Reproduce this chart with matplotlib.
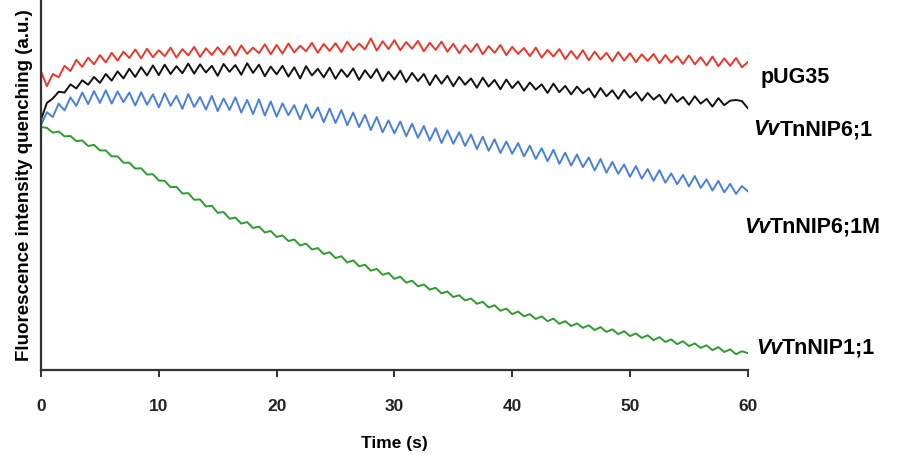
import numpy as np
import matplotlib
matplotlib.use("Agg")
import matplotlib.pyplot as plt

# fluorescence quenching traces (a.u.), one reading every 0.5 s from 0 to 60 s
pug35 = [80.5, 76.5, 79.8, 78.9, 82.0, 80.6, 83.6, 81.7, 84.2, 82.4,
         84.9, 82.9, 85.5, 83.4, 85.8, 84.1, 86.4, 84.0, 86.6, 84.3,
         86.2, 84.6, 86.9, 84.2, 86.5, 84.8, 87.1, 84.4, 86.7, 84.9,
         87.0, 85.0, 87.3, 84.7, 87.5, 85.2, 86.9, 85.4, 87.8, 85.1,
         87.6, 85.3, 88.0, 85.6, 87.4, 85.9, 88.2, 85.5, 87.9, 86.0,
         88.1, 85.7, 88.5, 86.2, 88.0, 86.4, 89.4, 86.1, 88.6, 86.5,
         88.9, 86.2, 88.4, 86.6, 88.7, 85.9, 88.2, 86.3, 88.5, 85.8,
         87.9, 85.4, 87.6, 85.7, 87.9, 85.1, 87.3, 85.5, 87.6, 84.9,
         87.1, 85.2, 86.8, 84.6, 86.9, 84.2, 86.3, 84.5, 86.5, 83.8,
         86.0, 83.9, 86.2, 83.5, 85.8, 83.7, 85.5, 83.2, 85.7, 83.4,
         85.4, 83.0, 85.1, 83.3, 85.2, 82.7, 84.9, 82.9, 84.6, 82.5,
         84.8, 82.4, 84.3, 82.1, 84.5, 81.9, 84.0, 82.0, 84.1, 81.6,
         83.0]

nip61 = [67.5, 72.0, 73.2, 75.0, 74.8, 77.0, 75.9, 78.1, 76.9, 79.0,
         77.4, 79.8, 78.0, 80.5, 78.6, 81.2, 79.0, 81.6, 79.4, 82.1,
         79.5, 82.3, 79.8, 81.9, 80.0, 82.6, 79.9, 82.4, 80.2, 82.0,
         79.3, 82.5, 80.4, 82.2, 79.6, 82.7, 80.1, 82.3, 79.2, 81.8,
         79.7, 82.0, 79.1, 81.6, 78.6, 81.9, 79.4, 81.2, 78.9, 81.5,
         78.5, 81.0, 79.0, 81.3, 78.2, 80.8, 78.7, 81.1, 77.9, 80.4,
         78.3, 80.7, 77.6, 80.1, 77.9, 79.8, 76.8, 79.5, 77.2, 79.3,
         76.5, 79.0, 76.9, 78.6, 76.1, 78.8, 76.4, 78.2, 75.7, 78.3,
         76.0, 77.8, 75.3, 77.5, 75.6, 77.0, 74.7, 77.2, 74.9, 76.6,
         74.3, 76.4, 74.6, 75.9, 73.5, 76.0, 73.8, 75.4, 73.1, 75.5,
         73.4, 74.9, 72.6, 74.7, 72.9, 74.2, 71.9, 74.4, 72.3, 73.6,
         71.5, 73.8, 71.8, 73.1, 71.0, 73.3, 71.4, 72.6, 72.8, 72.5,
         70.6]

nip61m = [66.0, 69.5, 68.2, 71.8, 70.0, 73.5, 71.2, 74.8, 71.7, 75.2,
          72.0, 75.4, 71.8, 75.1, 72.2, 74.8, 71.3, 74.9, 71.5, 74.3,
          70.8, 74.6, 71.2, 73.9, 70.4, 74.4, 70.9, 73.6, 70.2, 73.9,
          69.8, 73.2, 70.1, 73.5, 69.4, 72.8, 69.0, 73.0, 68.6, 72.4,
          68.3, 71.9, 68.7, 71.4, 67.6, 71.6, 67.9, 70.8, 66.8, 70.5,
          66.6, 70.1, 66.0, 69.4, 65.5, 68.8, 64.7, 68.2, 64.1, 67.3,
          63.8, 67.0, 63.0, 66.4, 62.6, 65.8, 61.9, 65.2, 61.2, 64.6,
          61.0, 64.1, 60.4, 63.5, 59.6, 62.9, 59.1, 62.2, 58.5, 61.6,
          58.3, 61.2, 57.6, 60.5, 56.9, 59.8, 56.3, 59.4, 55.6, 58.6,
          55.1, 58.1, 54.7, 57.3, 53.8, 56.9, 53.2, 56.1, 52.9, 55.4,
          52.1, 55.0, 51.6, 54.2, 51.0, 53.9, 50.5, 53.0, 50.1, 52.6,
          49.5, 52.3, 49.1, 51.4, 48.4, 51.0, 47.9, 50.2, 47.5, 49.6,
          48.2]

nip11 = [65.5, 65.3, 64.0, 64.3, 63.0, 63.1, 61.7, 61.9, 60.4, 60.7,
         59.2, 59.2, 57.6, 57.6, 55.9, 55.9, 54.3, 54.4, 52.7, 52.8,
         51.1, 51.0, 49.3, 49.4, 47.6, 47.7, 45.9, 46.0, 44.1, 44.3,
         42.4, 42.6, 40.8, 41.1, 39.5, 39.9, 38.3, 38.7, 37.1, 37.5,
         35.9, 36.3, 34.8, 35.2, 33.6, 34.1, 32.5, 32.9, 31.3, 31.8,
         30.2, 30.7, 29.0, 29.6, 28.0, 28.4, 26.8, 27.3, 25.7, 26.2,
         24.6, 25.2, 23.6, 24.1, 22.6, 23.1, 21.7, 22.2, 20.7, 21.2,
         19.7, 20.2, 18.8, 19.3, 17.9, 18.4, 16.9, 17.5, 16.0, 16.6,
         15.1, 15.8, 14.5, 15.1, 13.8, 14.5, 13.2, 13.9, 12.5, 13.2,
         11.9, 12.6, 11.4, 12.1, 10.8, 11.6, 10.3, 11.0, 9.7, 10.5,
         9.2, 9.9, 8.7, 9.4, 8.1, 8.9, 7.6, 8.3, 7.0, 7.8,
         6.5, 7.2, 6.0, 6.7, 5.4, 6.2, 4.9, 5.6, 4.3, 5.1,
         4.6]

x_ticks = [0, 10, 20, 30, 40, 50, 60]

fig = plt.figure(figsize=(9.05, 4.56), dpi=100)
ax = fig.add_axes([0.0453, 0.186, 0.781, 0.814])

traces = [
    (pug35, "#e8382c", "", "pUG35", 61.1, 79.2),
    (nip61, "#111111", "Vv", "TnNIP6;1", 60.5, 65.0),
    (nip61m, "#4a80d8", "Vv", "TnNIP6;1M", 59.66, 38.8),
    (nip11, "#2f9a2f", "Vv", "TnNIP1;1", 60.68, 6.2),
]

for values, colour, ital, rest, lx, ly in traces:
    t = np.linspace(0, 60, len(values))
    ax.plot(t, values, color=colour, lw=1.4)
    # label: italic "Vv" followed by the bold remainder
    if ital:
        first = ax.text(lx, ly, ital, fontsize=15.5, fontweight="bold", style="italic",
                        family="Liberation Sans", va="center", ha="left", clip_on=False)
        ax.annotate(rest, xy=(1, 0), xycoords=first, fontsize=15.5, fontweight="bold",
                    family="Liberation Sans", va="bottom", ha="left", annotation_clip=False)
    else:
        ax.text(lx, ly, rest, fontsize=15.5, fontweight="bold",
                family="Liberation Sans", va="center", ha="left", clip_on=False)

ax.set_xlim(0, 60)
ax.set_ylim(0, 100)
ax.set_xticks(x_ticks)
ax.set_xticklabels([str(v) for v in x_ticks], fontsize=12.5, fontweight="bold",
                   family=["Liberation Sans Narrow", "Liberation Sans"])
ax.set_yticks([])
ax.tick_params(axis="x", direction="out", length=5, width=1.3, pad=15, colors="#222222")

for side in ["top", "right"]:
    ax.spines[side].set_visible(False)
for side in ["left", "bottom"]:
    ax.spines[side].set_linewidth(1.6)
    ax.spines[side].set_color("#333333")

ax.set_xlabel("Time (s)", fontsize=12.5, fontweight="bold",
              family=["Liberation Sans Narrow", "Liberation Sans"], labelpad=16)
ax.set_ylabel("Fluorescence intensity quenching (a.u.)", fontsize=13.5, fontweight="bold",
              family="Liberation Sans", labelpad=6)

fig.savefig("out.png", dpi=100)
